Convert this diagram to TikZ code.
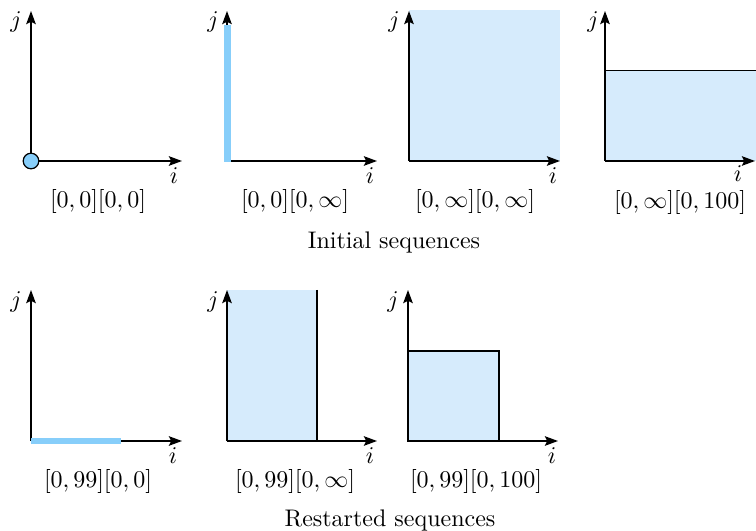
\documentclass[tikz,border=0pt]{standalone}
\usetikzlibrary{arrows.meta}
\definecolor{barblue}{RGB}{135,206,250}
\definecolor{fillblue}{RGB}{214,235,252}
\begin{document}
\begin{tikzpicture}[x=0.4167pt,y=-0.4167pt,
  axis/.style={line width=0.6pt,-{Stealth[length=5.5pt,width=4pt,inset=1pt]}},
  bar/.style={draw=barblue,line width=2.9pt},
  region/.style={fill=fillblue},
  border/.style={line width=0.45pt},
  axlab/.style={inner sep=0pt},
  lab/.style={inner sep=0pt},
  caption/.style={inner sep=0pt},
  dot/.style={circle,draw,fill=barblue,minimum size=6.5pt,inner sep=0pt,line width=0.5pt}]
\useasboundingbox (0,0) rectangle (756,531);
% ---------- Row 1 ----------
% panel A
\coordinate (a1o) at (31,161);
\coordinate (a1x) at (182,161);
\coordinate (a1y) at (31,11);
\draw[axis] (a1o) -- (a1x);
\draw[axis] (a1o) -- (a1y);
\node[dot] (a1pt) at (a1o) {};
\node[axlab] (a1j) at (16,22) {$j$};
\node[axlab] (a1i) at (174,176) {$i$};
\node[lab] (a1lab) at (98,202) {$[0,0][0,0]$};
% panel B
\coordinate (b1o) at (227,161);
\coordinate (b1x) at (377,161);
\coordinate (b1y) at (227,11);
\coordinate (b1bt) at (227.5,162);
\coordinate (b1tp) at (227.5,25);
\draw[axis] (b1o) -- (b1x);
\draw[axis] (b1o) -- (b1y);
\draw[bar] (b1bt) -- (b1tp);
\node[axlab] (b1j) at (213,22) {$j$};
\node[axlab] (b1i) at (370,176) {$i$};
\node[lab] (b1lab) at (295,202) {$[0,0][0,\infty]$};
% panel C
\coordinate (c1o) at (409,161);
\coordinate (c1x) at (560,161);
\coordinate (c1y) at (409,11);
\fill[region] (409,10) rectangle (560,161);
\draw[axis] (c1o) -- (c1x);
\draw[axis] (c1o) -- (c1y);
\node[axlab] (c1j) at (394,22) {$j$};
\node[axlab] (c1i) at (553,176) {$i$};
\node[lab] (c1lab) at (475,202) {$[0,\infty][0,\infty]$};
% panel D
\coordinate (d1o) at (605,161);
\coordinate (d1x) at (755,161);
\coordinate (d1y) at (605,11);
\coordinate (d1tl) at (605,70.7);
\coordinate (d1tr) at (756,70.7);
\fill[region] (605,70.7) rectangle (756,161);
\draw[border] (d1tl) -- (d1tr);
\draw[axis] (d1o) -- (d1x);
\draw[axis] (d1o) -- (d1y);
\node[axlab] (d1j) at (593,22) {$j$};
\node[axlab] (d1i) at (738,174) {$i$};
\node[lab] (d1lab) at (680,203) {$[0,\infty][0,100]$};
\node[caption] (cap1) at (394,243) {Initial sequences};
% ---------- Row 2 ----------
% panel A
\coordinate (a2o) at (31,441);
\coordinate (a2x) at (182,441);
\coordinate (a2y) at (31,290);
\coordinate (a2bl) at (31,441);
\coordinate (a2br) at (121,441);
\draw[axis] (a2o) -- (a2x);
\draw[axis] (a2o) -- (a2y);
\draw[bar] (a2bl) -- (a2br);
\node[axlab] (a2j) at (16,302) {$j$};
\node[axlab] (a2i) at (173,456) {$i$};
\node[lab] (a2lab) at (98,482) {$[0,99][0,0]$};
% panel B
\coordinate (b2o) at (227,441);
\coordinate (b2x) at (377,441);
\coordinate (b2y) at (227,290);
\coordinate (b2rt) at (317,290);
\coordinate (b2rb) at (317,441);
\fill[region] (227,290) rectangle (317,441);
\draw[border] (b2rt) -- (b2rb);
\draw[axis] (b2o) -- (b2x);
\draw[axis] (b2o) -- (b2y);
\node[axlab] (b2j) at (213,302) {$j$};
\node[axlab] (b2i) at (370,456) {$i$};
\node[lab] (b2lab) at (295,482) {$[0,99][0,\infty]$};
% panel C
\coordinate (c2o) at (408,441);
\coordinate (c2x) at (558,441);
\coordinate (c2y) at (408,290);
\filldraw[region,border] (408,351) rectangle (499,441);
\draw[axis] (c2o) -- (c2x);
\draw[axis] (c2o) -- (c2y);
\node[axlab] (c2j) at (393,302) {$j$};
\node[axlab] (c2i) at (552,456) {$i$};
\node[lab] (c2lab) at (476,482) {$[0,99][0,100]$};
\node[caption] (cap2) at (390,520) {Restarted sequences};
\end{tikzpicture}
\end{document}
